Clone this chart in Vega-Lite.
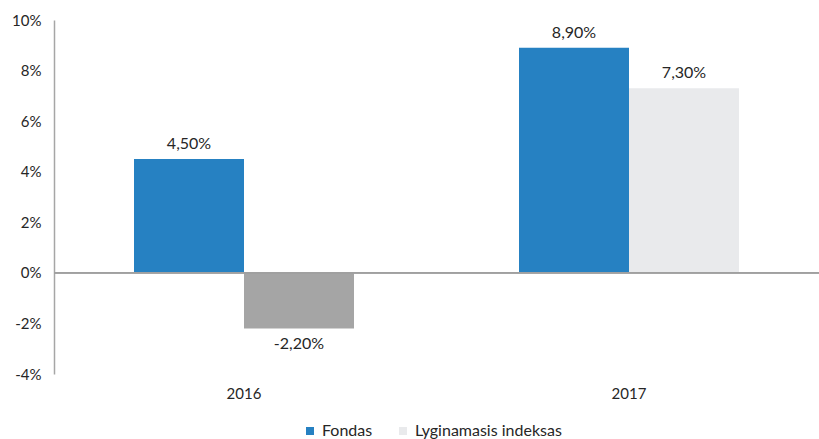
{
  "$schema": "https://vega.github.io/schema/vega-lite/v6.json",
  "width": 765,
  "height": 354,
  "autosize": {"type": "none"},
  "padding": {"left": 54, "top": 20, "right": 0, "bottom": 65},
  "background": "white",
  "config": {
    "view": {"stroke": null},
    "font": "Lato",
    "locale": {"number": {"decimal": ",", "thousands": " ", "grouping": [3], "currency": ["", " €"], "minus": "-"}}
  },
  "data": {
    "values": [
      {"year": "2016", "series": "Fondas", "value": 0.045},
      {"year": "2016", "series": "Lyginamasis indeksas", "value": -0.022},
      {"year": "2017", "series": "Fondas", "value": 0.089},
      {"year": "2017", "series": "Lyginamasis indeksas", "value": 0.073}
    ]
  },
  "layer": [
    {
      "mark": {"type": "bar"},
      "encoding": {
        "x": {"field": "year", "type": "nominal", "scale": {"paddingInner": 0.4286, "paddingOuter": 0.2078},
          "axis": {"title": null, "domain": false, "ticks": false, "labelAngle": 0, "labelFontSize": 15, "labelColor": "#262626", "labelPadding": 12}},
        "xOffset": {"field": "series", "type": "nominal", "scale": {"paddingInner": 0, "paddingOuter": 0}},
        "y": {"field": "value", "type": "quantitative", "scale": {"domain": [-0.04, 0.1], "nice": false, "zero": false},
          "axis": {"title": null, "values": [-0.04, -0.02, 0, 0.02, 0.04, 0.06, 0.08, 0.1], "format": ".0%", "grid": false, "ticks": false, "domainColor": "#a6a6a6", "domainWidth": 1.5, "labelFontSize": 15, "labelColor": "#262626", "labelPadding": 13}},
        "color": {
          "condition": {"test": "datum.value < 0", "value": "#a5a5a5"},
          "field": "series", "type": "nominal",
          "scale": {"domain": ["Fondas", "Lyginamasis indeksas"], "range": ["#2681c2", "#e9eaec"]},
          "legend": {"title": null, "orient": "none", "legendX": 248, "legendY": 403, "direction": "horizontal", "symbolType": "square", "symbolSize": 64, "symbolStrokeWidth": 0, "labelFontSize": 16, "labelColor": "#262626", "columnPadding": 22, "labelOffset": 4}
        }
      }
    },
    {
      "mark": {"type": "rule", "color": "#a0a0a0", "strokeWidth": 1.5},
      "encoding": {"y": {"datum": 0}}
    },
    {
      "transform": [{"filter": "datum.value >= 0"}],
      "mark": {"type": "text", "baseline": "bottom", "dy": -7, "fontSize": 16, "color": "#262626"},
      "encoding": {
        "x": {"field": "year", "type": "nominal"},
        "xOffset": {"field": "series", "type": "nominal"},
        "y": {"field": "value", "type": "quantitative"},
        "text": {"field": "value", "type": "quantitative", "format": ".2%"}
      }
    },
    {
      "transform": [{"filter": "datum.value < 0"}],
      "mark": {"type": "text", "baseline": "top", "dy": 8, "fontSize": 16, "color": "#262626"},
      "encoding": {
        "x": {"field": "year", "type": "nominal"},
        "xOffset": {"field": "series", "type": "nominal"},
        "y": {"field": "value", "type": "quantitative"},
        "text": {"field": "value", "type": "quantitative", "format": ".2%"}
      }
    }
  ]
}
